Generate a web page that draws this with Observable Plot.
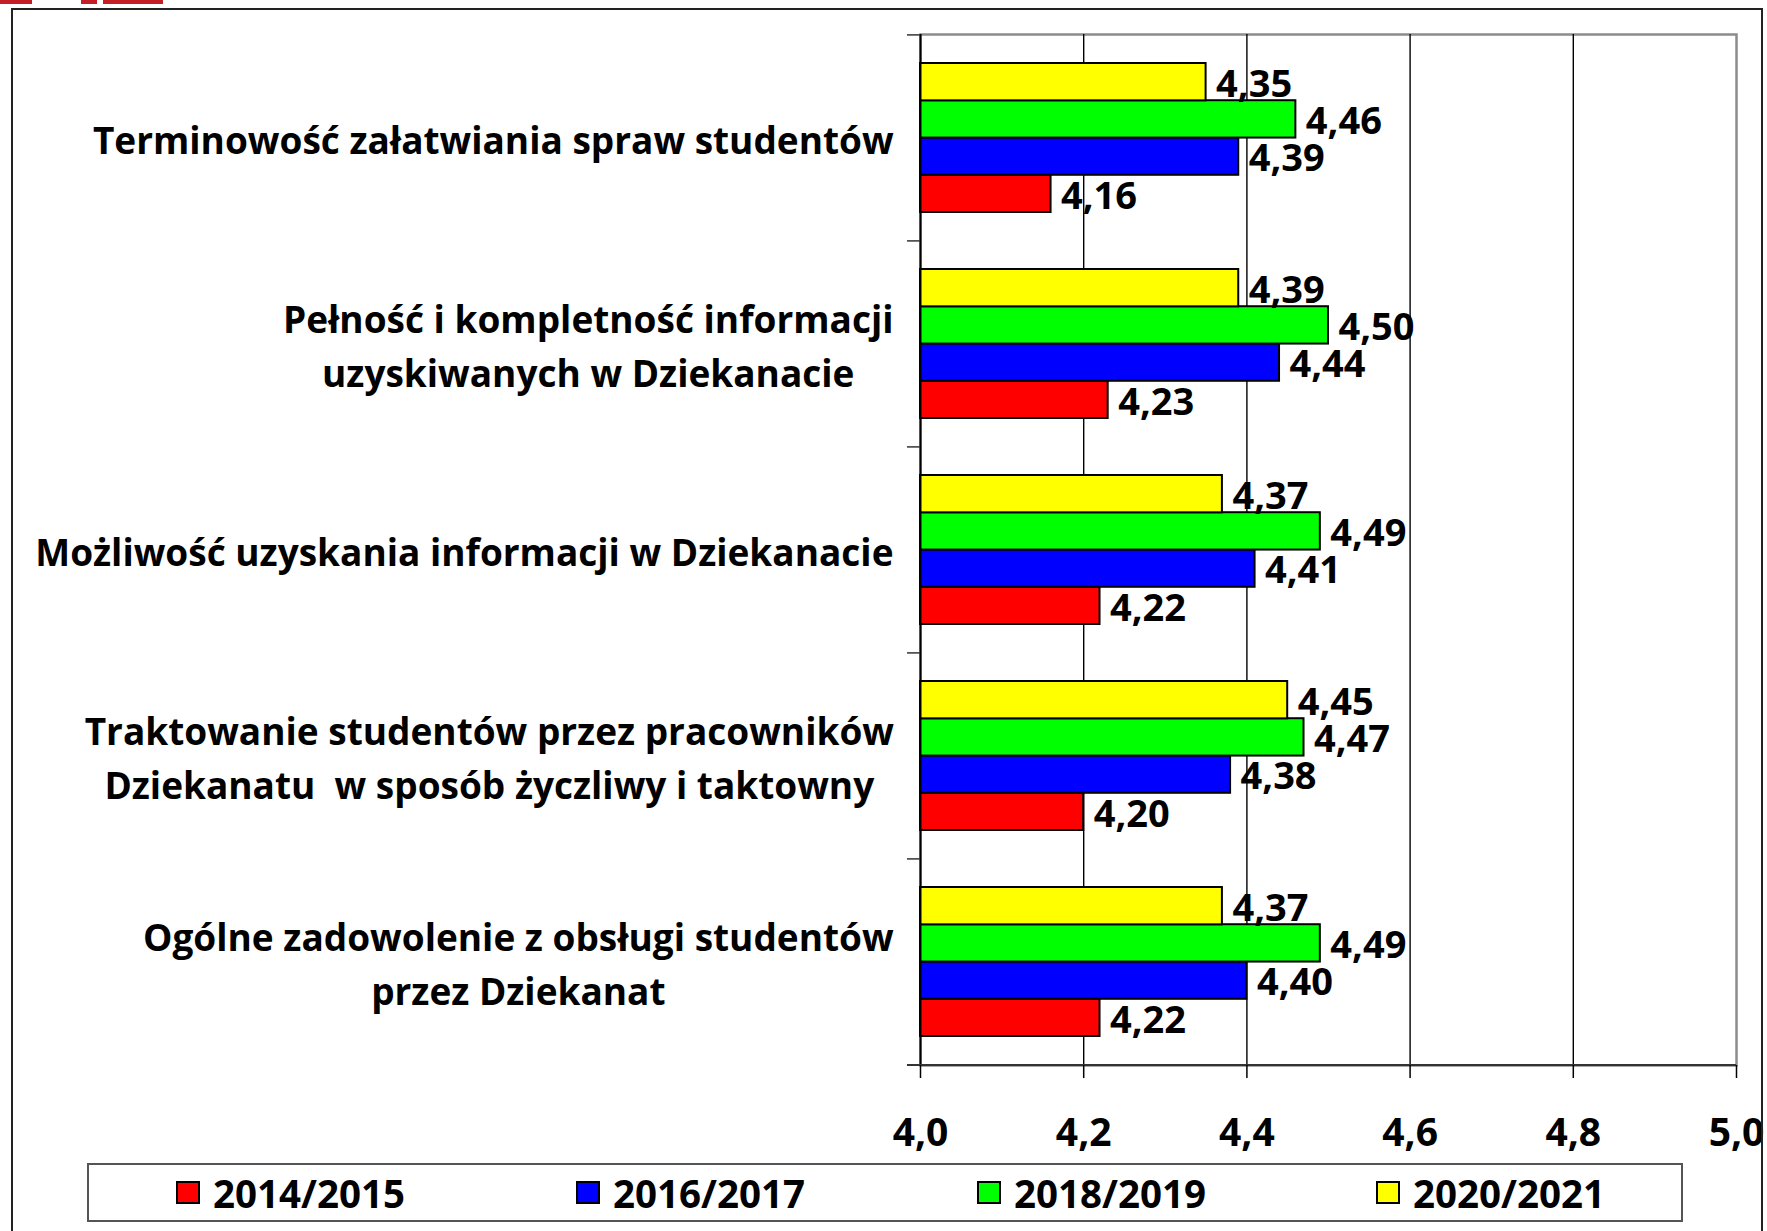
<!DOCTYPE html>
<html>
<head>
<meta charset="utf-8">
<script src="https://cdn.jsdelivr.net/npm/d3@7"></script>
<script src="https://cdn.jsdelivr.net/npm/@observablehq/plot@0.6"></script>
<style>
  html, body { margin: 0; padding: 0; background: #fff; }
  #wrap { position: relative; width: 1767px; height: 1231px; overflow: hidden; font-family: "Open Sans", sans-serif; }
  #chart { position: absolute; left: 0; top: 0; }
  #frame { position: absolute; left: 11px; top: 8px; width: 1748px; height: 1300px; border: 2px solid #222; pointer-events: none; }
  .logo { position: absolute; top: 0; height: 4px; background: #c41e26; }
  #legend { position: absolute; left: 87px; top: 1163px; width: 1592px; height: 55px; border: 2px solid #555; background: #fff; }
  .item { position: absolute; top: 0; height: 55px; display: flex; align-items: center; font-weight: 700; font-size: 38.5px; color: #000; white-space: nowrap; }
  .sw { width: 20px; height: 19px; border: 2.5px solid #000; margin-right: 13px; }
  svg text { white-space: pre; }
</style>
</head>
<body>
<div id="wrap">
  <div class="logo" style="left:0;width:32px"></div>
  <div class="logo" style="left:81px;width:16px"></div>
  <div class="logo" style="left:103px;width:60px"></div>
  <div id="chart"></div>
  <div id="legend"></div>
  <div id="frame"></div>
</div>
<script>
// ---- data ----
const categories = [
  "Terminowość załatwiania spraw studentów",
  "Pełność i kompletność informacji\nuzyskiwanych w Dziekanacie",
  "Możliwość uzyskania informacji w Dziekanacie",
  "Traktowanie studentów przez pracowników\nDziekanatu  w sposób życzliwy i taktowny",
  "Ogólne zadowolenie z obsługi studentów\nprzez Dziekanat"
];
const seriesNames = ["2014/2015", "2016/2017", "2018/2019", "2020/2021"];
const v2014_2015 = [4.16, 4.23, 4.22, 4.20, 4.22];
const v2016_2017 = [4.39, 4.44, 4.41, 4.38, 4.40];
const v2018_2019 = [4.46, 4.50, 4.49, 4.47, 4.49];
const v2020_2021 = [4.35, 4.39, 4.37, 4.45, 4.37];
const xTicks = [4.0, 4.2, 4.4, 4.6, 4.8, 5.0];
const gridValues = [4.2, 4.4, 4.6, 4.8];
const seriesColors = ["#ff0000", "#0000ff", "#00ff00", "#ffff00"];

// ---- layout ----
const W = 1767, H = 1160;
const plotTop = 34, plotBottom = 1065, plotLeft = 920, plotRight = 1736;
const step = (plotBottom - plotTop) / categories.length;
const padInner = 0.278;
const bandwidth = step * (1 - padInner);
const barH = bandwidth / 4;
const FONT = "'Open Sans', sans-serif";
const comma = (d, n) => d.toFixed(n).replace(".", ",");

const seriesValues = [v2014_2015, v2016_2017, v2018_2019, v2020_2021];
const seriesData = seriesValues.map((vals, s) =>
  categories.map((c, i) => ({cat: c, v: vals[i], series: seriesNames[s]})));

const marks = [
  Plot.frame({stroke: "#8c8c8c", strokeWidth: 2.5}),
  Plot.ruleX(gridValues, {stroke: "#000", strokeWidth: 1.4}),
  ...seriesData.map((data, s) => Plot.barX(data, {
    x1: 4, x2: "v", y: "cat",
    fill: seriesColors[s], stroke: "#000", strokeWidth: 2,
    insetTop: (3 - s) * barH, insetBottom: s * barH
  })),
  // left axis line
  Plot.ruleX([4], {stroke: "#000", strokeWidth: 2}),
  // category boundary ticks
  Plot.ruleY(categories, {y: d => d, x1: 4, x2: 4, insetLeft: -13, dy: -step / 2, stroke: "#333", strokeWidth: 1.5}),
  // bottom axis line
  Plot.ruleY([categories[categories.length - 1]], {y: d => d, x1: 4, x2: 5, insetLeft: -13, dy: step / 2, stroke: "#333", strokeWidth: 2}),
  ...seriesData.map((data, s) => Plot.text(data, {
    x: "v", y: "cat", text: d => comma(d.v, 2),
    textAnchor: "start", dx: 10, dy: -bandwidth / 2 + (3 - s + 0.5) * barH + 2.5,
    fontSize: 38, fontWeight: 700, fill: "#000"
  })),
  Plot.text(categories, {
    y: d => d, text: d => d, frameAnchor: "left", textAnchor: "end", dx: -27, dy: -1,
    fontSize: 37, fontWeight: 700, lineHeight: 1.46, fill: "#000", ariaLabel: () => "catlab"
  }),
  Plot.axisX({
    ticks: xTicks, tickFormat: d => comma(d, 1), tickSize: 13, tickPadding: 40,
    fontSize: 39, fontWeight: 700, strokeWidth: 1.5, label: null
  })
];

const chart = Plot.plot({
  width: W, height: H,
  marginTop: plotTop, marginBottom: H - plotBottom, marginLeft: plotLeft, marginRight: W - plotRight,
  style: {fontFamily: FONT, background: "transparent", overflow: "visible", color: "#000"},
  x: {domain: [4, 5], label: null, axis: null},
  y: {domain: categories, paddingInner: padInner, paddingOuter: padInner / 2, axis: null, label: null},
  marks
});
document.getElementById("chart").appendChild(chart);

// center multi-line category labels on each other, block right-aligned
const catTexts = new Set(categories.map(c => c.replace(/\n/g, "")));
chart.querySelectorAll("text").forEach(t => {
  const isCat = t.getAttribute("aria-label") === "catlab" || catTexts.has(t.textContent);
  if (!isCat) return;
  const b = t.getBBox();
  const cx = b.x + b.width / 2;
  t.setAttribute("text-anchor", "middle");
  const spans = t.querySelectorAll("tspan");
  if (spans.length) spans.forEach(ts => ts.setAttribute("x", cx));
  else t.setAttribute("x", cx);
});

// legend
const legend = document.getElementById("legend");
const legendX = [87, 487, 888, 1287];
seriesNames.forEach((name, s) => {
  const item = document.createElement("div");
  item.className = "item";
  item.style.left = legendX[s] + "px";
  const sw = document.createElement("div");
  sw.className = "sw";
  sw.style.background = seriesColors[s];
  const lab = document.createElement("span");
  lab.textContent = name;
  item.appendChild(sw);
  item.appendChild(lab);
  legend.appendChild(item);
});
</script>
</body>
</html>
